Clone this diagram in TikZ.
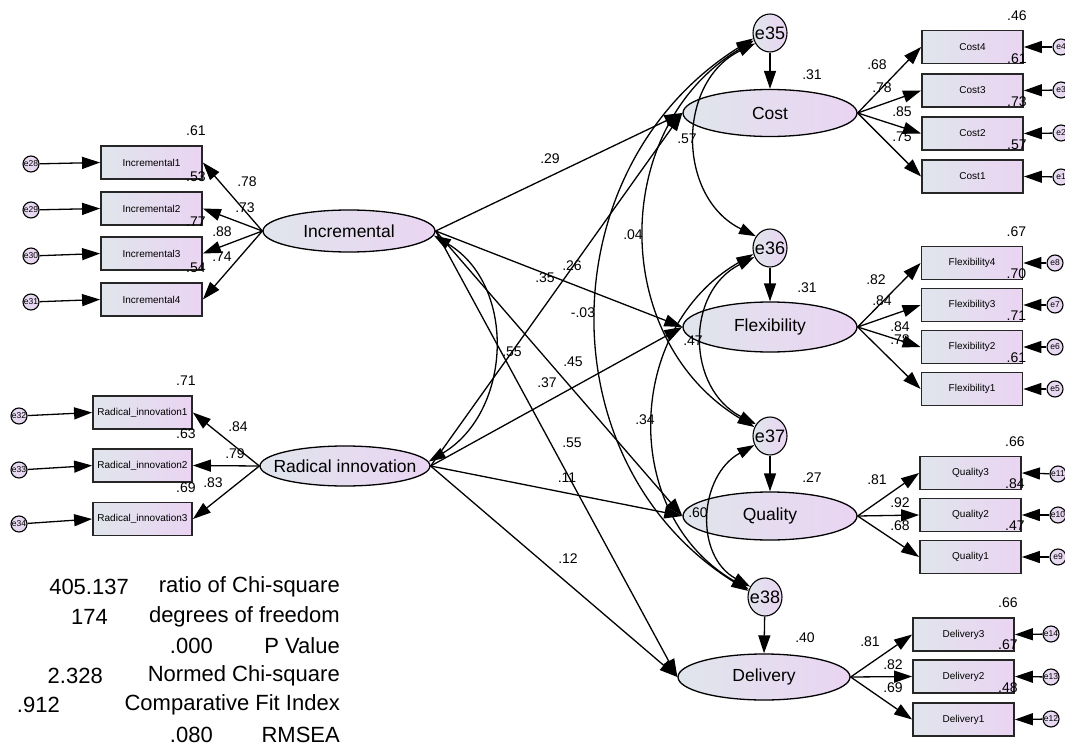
\documentclass[tikz,border=0pt]{standalone}
\usepackage{fontspec}
\setmainfont{Liberation Sans}
\usetikzlibrary{arrows.meta,shapes.geometric}
\definecolor{cL}{RGB}{224,229,236}
\definecolor{cR}{RGB}{234,212,242}
\newcommand{\mzw}[1]{\makebox[0pt]{#1}}
\begin{document}
\begin{tikzpicture}[x=1pt,y=-1pt,
  lat/.style={ellipse, draw=black, line width=1.3pt, left color=cL, right color=cR, minimum width=174pt, minimum height=46pt, inner sep=0pt, font=\fontsize{17.5}{18}\selectfont},
  obs/.style={rectangle, draw=black!85, line width=1.8pt, left color=cL, right color=cR, minimum width=101pt, minimum height=33pt, inner sep=0pt, font=\fontsize{10}{10}\selectfont},
  berr/.style={ellipse, draw=black, line width=1.1pt, left color=cL, right color=cR, minimum width=34pt, minimum height=38pt, inner sep=0pt, font=\fontsize{18}{18}\selectfont},
  serr/.style={circle, draw=black, line width=1.1pt, left color=cL!50!cR, right color=cR, minimum size=16pt, inner sep=0pt, font=\fontsize{8.5}{8.5}\selectfont},
  reg/.style={-{Triangle[length=18pt,width=12pt]}, line width=1.3pt},
  cov/.style={{Triangle[length=17pt,width=11pt]}-{Triangle[length=17pt,width=11pt]}, line width=1.3pt},
  lbl/.style={inner sep=0pt, font=\fontsize{14}{14}\selectfont},
  stat/.style={inner sep=0pt, anchor=east, font=\fontsize{22}{22}\selectfont},
]
\fill[white] (0,0) rectangle (1065,754);
\useasboundingbox (0,0) rectangle (1065,754);

% ---------- latent variables
\node[lat, minimum width=172pt, minimum height=42pt] (Inc) at (349,231) {\mzw{Incremental}};
\node[lat, minimum width=170pt, minimum height=40pt] (Rad) at (345,466) {\mzw{Radical innovation}};
\node[lat, minimum height=47pt] (Cost) at (770,113) {\mzw{Cost}};
\node[lat, minimum height=50pt] (Flex) at (770,327) {\mzw{Flexibility}};
\node[lat, minimum height=48pt] (Qual) at (770,516) {\mzw{Quality}};
\node[lat, minimum width=172pt] (Del) at (764,677) {\mzw{Delivery}};

% ---------- disturbance terms
\node[berr] (e35) at (770,33) {\mzw{e35}};
\node[berr] (e36) at (770,248) {\mzw{e36}};
\node[berr] (e37) at (770,436) {\mzw{e37}};
\node[berr] (e38) at (765,597) {\mzw{e38}};

% ---------- left indicators
\node[obs] (I1) at (151.5,162.5) {Incremental1};
\node[obs] (I2) at (151.5,208.5) {Incremental2};
\node[obs] (I3) at (151.5,253.5) {Incremental3};
\node[obs] (I4) at (151.5,299.5) {Incremental4};
\node[obs, minimum width=99pt] (R1) at (142.5,412.5) {Radical\_innovation1};
\node[obs, minimum width=99pt] (R2) at (142.5,465.5) {Radical\_innovation2};
\node[obs, minimum width=99pt] (R3) at (142.5,519) {Radical\_innovation3};

\node[serr] (e28) at (31,164) {\mzw{e28}};
\node[serr] (e29) at (31,210) {\mzw{e29}};
\node[serr] (e30) at (31,256) {\mzw{e30}};
\node[serr] (e31) at (31,302) {\mzw{e31}};
\node[serr] (e32) at (19,416) {\mzw{e32}};
\node[serr] (e33) at (19,470) {\mzw{e33}};
\node[serr] (e34) at (19,524) {\mzw{e34}};

% ---------- right indicators
\node[obs] (C4) at (972.5,47) {Cost4};
\node[obs] (C3) at (972.5,90.5) {Cost3};
\node[obs] (C2) at (972.5,133.5) {Cost2};
\node[obs] (C1) at (972.5,176.5) {Cost1};
\node[obs] (F4) at (972,263) {Flexibility4};
\node[obs] (F3) at (972,305) {Flexibility3};
\node[obs] (F2) at (972,347) {Flexibility2};
\node[obs] (F1) at (972,389) {Flexibility1};
\node[obs] (Q3) at (970.5,473) {Quality3};
\node[obs] (Q2) at (970.5,515) {Quality2};
\node[obs] (Q1) at (970.5,557) {Quality1};
\node[obs] (D3) at (963.5,634.5) {Delivery3};
\node[obs] (D2) at (963.5,676.5) {Delivery2};
\node[obs] (D1) at (963.5,719.5) {Delivery1};

\node[serr] (e4) at (1061,47) {\mzw{e4}};
\node[serr] (e3) at (1061,90) {\mzw{e3}};
\node[serr] (e2) at (1061,133) {\mzw{e2}};
\node[serr] (e1) at (1061,177) {\mzw{e1}};
\node[serr] (e8) at (1055,263) {\mzw{e8}};
\node[serr] (e7) at (1055,305) {\mzw{e7}};
\node[serr] (e6) at (1055,347) {\mzw{e6}};
\node[serr] (e5) at (1055,389) {\mzw{e5}};
\node[serr] (e11) at (1058,474) {\mzw{e11}};
\node[serr] (e10) at (1058,515) {\mzw{e10}};
\node[serr] (e9) at (1058,557) {\mzw{e9}};
\node[serr] (e14) at (1051,634) {\mzw{e14}};
\node[serr] (e13) at (1051,677) {\mzw{e13}};
\node[serr] (e12) at (1051,719) {\mzw{e12}};

% ---------- measurement arrows
\foreach \e/\b in {e28/I1,e29/I2,e30/I3,e31/I4,e32/R1,e33/R2,e34/R3}
  \draw[reg] (\e) -- (\b.west);
\foreach \b in {I1,I2,I3,I4} \draw[reg] (Inc.west) -- (\b.east);
\foreach \b in {R1,R2,R3} \draw[reg] (Rad.west) -- (\b.east);
\foreach \b in {C4,C3,C2,C1} \draw[reg] (Cost.east) -- (\b.west);
\foreach \b in {F4,F3,F2,F1} \draw[reg] (Flex.east) -- (\b.west);
\foreach \b in {Q3,Q2,Q1} \draw[reg] (Qual.east) -- (\b.west);
\foreach \b in {D3,D2,D1} \draw[reg] (Del.east) -- (\b.west);
\foreach \e/\b in {e4/C4,e3/C3,e2/C2,e1/C1,e8/F4,e7/F3,e6/F2,e5/F1,e11/Q3,e10/Q2,e9/Q1,e14/D3,e13/D2,e12/D1}
  \draw[reg] (\e) -- (\b.east);

% ---------- disturbances to latents
\draw[reg] (e35) -- (Cost.north);
\draw[reg] (e36) -- (Flex.north);
\draw[reg] (e37) -- (Qual.north);
\draw[reg] (e38) -- (Del.north);

% ---------- structural paths
\foreach \t in {Cost,Flex,Qual,Del} {
  \draw[reg] (Inc.east) -- (\t.west);
  \draw[reg] (Rad.east) -- (\t.west);
}

% ---------- covariances
\draw[cov] (Inc.-3) to[out=-31, in=31, distance=97pt] (Rad.3);
\draw[cov] (e35.215) to[out=206, in=154, distance=88pt] (e36.140);
\draw[cov] (e35.205) to[out=211, in=149, distance=169pt] (e37.150);
\draw[cov] (e35.198) to[out=212, in=148, distance=241pt] (e38.160);
\draw[cov] (e36.210) to[out=207, in=153, distance=78pt] (e37.140);
\draw[cov] (e36.200) to[out=210, in=150, distance=149pt] (e38.155);
\draw[cov] (e37.210) to[out=209, in=151, distance=64pt] (e38.145);

% ---------- structural / covariance estimates
\node[lbl] (l29) at (550,159) {.29};
\node[lbl] (l26) at (572,266) {.26};
\node[lbl] (l35) at (545,278) {.35};
\node[lbl] (l04) at (633,235) {.04};
\node[lbl] (lm03) at (583,313) {-.03};
\node[lbl] (l57) at (687,139) {.57};
\node[lbl] (l47) at (693,341) {.47};
\node[lbl] (l55a) at (512,352) {.55};
\node[lbl] (l45) at (573,362) {.45};
\node[lbl] (l37) at (547,383) {.37};
\node[lbl] (l34) at (645,420) {.34};
\node[lbl] (l55b) at (572,443) {.55};
\node[lbl] (l11) at (567,478) {.11};
\node[lbl] (l12) at (568,559) {.12};
\node[lbl] (l60) at (698,513) {.60};

% squared multiple correlations of latents
\node[lbl] (rC) at (812,75) {.31};
\node[lbl] (rF) at (807,288) {.31};
\node[lbl] (rQ) at (812,478) {.27};
\node[lbl] (rD) at (805,638) {.40};

% loadings left
\node[lbl] at (247,182) {.78};
\node[lbl] at (245,208) {.73};
\node[lbl] at (222,232) {.88};
\node[lbl] at (222,257) {.74};
\node[lbl] at (238,427) {.84};
\node[lbl] at (235,454) {.79};
\node[lbl] at (213,483) {.83};
% loadings right
\node[lbl] at (877,65) {.68};
\node[lbl] at (882,88) {.78};
\node[lbl] at (902,112) {.85};
\node[lbl] at (902,137) {.75};
\node[lbl] at (876,280) {.82};
\node[lbl] at (882,301) {.84};
\node[lbl] at (900,327) {.84};
\node[lbl] at (900,340) {.78};
\node[lbl] at (877,480) {.81};
\node[lbl] at (900,503) {.92};
\node[lbl] at (900,526) {.68};
\node[lbl] at (870,642) {.81};
\node[lbl] at (893,665) {.82};
\node[lbl] at (893,688) {.69};

% indicator R2
\foreach \b/\v in {I1/.61,I2/.53,I3/.77,I4/.54,R1/.71,R2/.63,R3/.69,C4/.46,C3/.61,C2/.73,C1/.57,F4/.67,F3/.70,F2/.71,F1/.61,Q3/.66,Q2/.84,Q1/.47,D3/.66,D2/.67,D1/.48}
  \node[lbl] at ([xshift=-7pt,yshift=14pt]\b.north east) {\v};

% ---------- fit statistics
\node[stat] (s1n) at (129,587) {405.137};
\node[stat] (s1t) at (340,587) {ratio of Chi-square};
\node[stat] (s2n) at (108,616.5) {174};
\node[stat] (s2t) at (340,616.5) {degrees of freedom};
\node[stat] (s3n) at (213,646) {.000};
\node[stat] (s3t) at (340,646) {P Value};
\node[stat] (s4n) at (103,675.5) {2.328};
\node[stat] (s4t) at (340,675.5) {Normed Chi-square};
\node[stat] (s5n) at (60,705) {.912};
\node[stat] (s5t) at (340,705) {Comparative Fit Index};
\node[stat] (s6n) at (213,734.5) {.080};
\node[stat] (s6t) at (340,734.5) {RMSEA};
\end{tikzpicture}
\end{document}
